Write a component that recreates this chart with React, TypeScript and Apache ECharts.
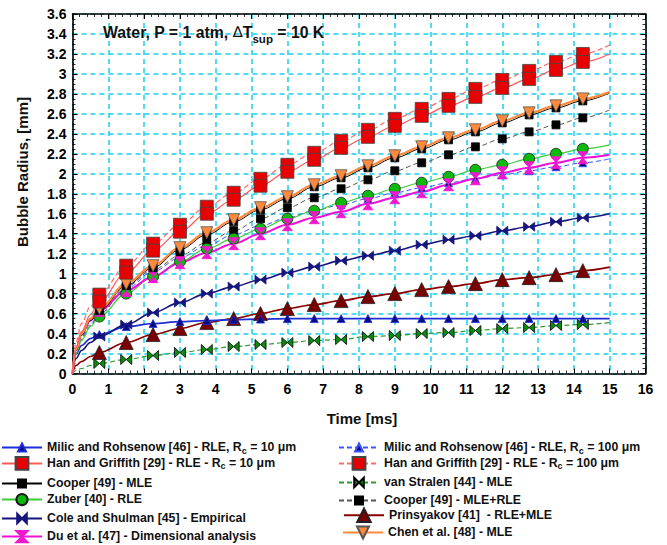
import React, { useEffect, useRef } from 'react';
import * as echarts from 'echarts';

// time points (ms) at which the curves were read
const times = [0, 0.1, 0.25, 0.5, 0.75, 1.5, 2.25, 3, 3.75, 4.5, 5.25, 6, 6.75, 7.5, 8.25, 9, 9.75, 10.5, 11.25, 12, 12.75, 13.5, 14.25, 15];
// times that carry a marker
const markerTimes = [0.75, 1.5, 2.25, 3, 3.75, 4.5, 5.25, 6, 6.75, 7.5, 8.25, 9, 9.75, 10.5, 11.25, 12, 12.75, 13.5, 14.25];

// bubble radius (mm)
const milic10 = [0, 0.2, 0.28, 0.35, 0.39, 0.47, 0.5, 0.52, 0.53, 0.54, 0.545, 0.55, 0.55, 0.55, 0.55, 0.55, 0.55, 0.55, 0.55, 0.55, 0.55, 0.55, 0.55, 0.55];
const milic100 = [0, 0.22, 0.36, 0.5, 0.6, 0.85, 1.02, 1.16, 1.28, 1.39, 1.48, 1.56, 1.63, 1.69, 1.75, 1.81, 1.86, 1.91, 1.95, 1.99, 2.03, 2.07, 2.11, 2.15];
const han10 = [0, 0.26, 0.42, 0.59, 0.72, 1.01, 1.23, 1.42, 1.6, 1.74, 1.88, 2.02, 2.14, 2.26, 2.37, 2.48, 2.58, 2.68, 2.77, 2.86, 2.95, 3.04, 3.12, 3.2];
const han100 = [0, 0.32, 0.5, 0.67, 0.79, 1.08, 1.3, 1.49, 1.67, 1.81, 1.95, 2.09, 2.21, 2.33, 2.44, 2.55, 2.65, 2.75, 2.85, 2.94, 3.03, 3.12, 3.2, 3.29];
const cooperMLE = [0, 0.23, 0.38, 0.53, 0.63, 0.88, 1.06, 1.24, 1.39, 1.52, 1.64, 1.75, 1.87, 1.96, 2.06, 2.16, 2.25, 2.34, 2.42, 2.51, 2.59, 2.66, 2.73, 2.81];
const cooperMR = [0, 0.2, 0.34, 0.48, 0.59, 0.87, 1.04, 1.18, 1.31, 1.43, 1.55, 1.66, 1.76, 1.85, 1.94, 2.03, 2.11, 2.19, 2.27, 2.35, 2.42, 2.49, 2.56, 2.64];
const zuber = [0, 0.2, 0.33, 0.47, 0.57, 0.8, 0.97, 1.12, 1.25, 1.35, 1.45, 1.55, 1.63, 1.71, 1.78, 1.85, 1.91, 1.97, 2.04, 2.09, 2.15, 2.2, 2.25, 2.29];
const cole = [0, 0.15, 0.23, 0.31, 0.37, 0.49, 0.61, 0.71, 0.8, 0.87, 0.94, 1.01, 1.07, 1.13, 1.18, 1.23, 1.29, 1.34, 1.38, 1.43, 1.47, 1.52, 1.56, 1.6];
const du = [0, 0.25, 0.4, 0.53, 0.63, 0.83, 0.97, 1.11, 1.21, 1.3, 1.4, 1.49, 1.56, 1.62, 1.7, 1.76, 1.82, 1.89, 1.95, 2.01, 2.06, 2.11, 2.16, 2.19];
const vanStralen = [0, 0.03, 0.05, 0.08, 0.1, 0.14, 0.18, 0.21, 0.24, 0.27, 0.29, 0.31, 0.33, 0.34, 0.37, 0.38, 0.4, 0.41, 0.43, 0.45, 0.46, 0.48, 0.49, 0.51];
const prinsyakov = [0, 0.08, 0.12, 0.17, 0.21, 0.31, 0.39, 0.45, 0.51, 0.55, 0.6, 0.65, 0.69, 0.73, 0.77, 0.8, 0.84, 0.87, 0.9, 0.94, 0.96, 0.99, 1.03, 1.065];
const chen = [0, 0.24, 0.4, 0.55, 0.65, 0.9, 1.08, 1.26, 1.41, 1.54, 1.66, 1.77, 1.89, 1.98, 2.08, 2.18, 2.27, 2.36, 2.44, 2.53, 2.61, 2.68, 2.75, 2.82];

const names = {
  milic10: 'Milic and Rohsenow [46] - RLE, Rc = 10 μm',
  han10: 'Han and Griffith [29] - RLE - Rc = 10 μm',
  cooperMLE: 'Cooper [49] - MLE',
  zuber: 'Zuber [40] - RLE',
  cole: 'Cole and Shulman [45] - Empirical',
  du: 'Du et al. [47] - Dimensional analysis',
  milic100: 'Milic and Rohsenow [46] - RLE, Rc = 100 μm',
  han100: 'Han and Griffith [29] - RLE - Rc = 100 μm',
  vanStralen: 'van Stralen [44] - MLE',
  cooperMR: 'Cooper [49] - MLE+RLE',
  prinsyakov: 'Prinsyakov [41]  - RLE+MLE',
  chen: 'Chen et al. [48] - MLE',
};

const FONT = '"Liberation Sans", Arial, sans-serif';
const BOWTIE = 'path://M0,0L10,5L0,10Z M20,0L10,5L20,10Z';
const HOURGLASS = 'path://M0,0L10,0L5,10Z M0,20L10,20L5,10Z';

function mk(name: string, values: number[], o: any) {
  return {
    name,
    type: 'line',
    smooth: 0.35,
    smoothMonotone: 'x',
    showAllSymbol: true,
    symbol: o.symbol,
    symbolSize: o.size,
    symbolRotate: o.rotate ?? 0,
    lineStyle: { color: o.line, width: o.width ?? 1.2, type: o.dash ? [5, 3] : 'solid' },
    itemStyle: { color: o.fill, borderColor: o.border ?? o.fill, borderWidth: o.bw ?? 0.8 },
    emphasis: { disabled: true },
    data: times.map((t, i) => ({
      value: [t, values[i]],
      symbol: markerTimes.includes(t) ? o.symbol : 'none',
    })),
  };
}

function fmt(name: string) {
  const parts = name.split('Rc');
  if (parts.length === 1) return `{m|${name}}`;
  return `{m|${parts[0]}R}{s|c}{m|${parts[1]}}`;
}

const legendRich = {
  m: { fontSize: 12.3, fontWeight: 'bold', fontFamily: FONT, color: '#111', lineHeight: 13, verticalAlign: 'top', padding: [0, 0, 2, 0] },
  s: { fontSize: 9, fontWeight: 'bold', fontFamily: FONT, color: '#111', lineHeight: 10, verticalAlign: 'top', padding: [5, 0, 0, 0] },
};

export default function App() {
  const ref = useRef<HTMLDivElement>(null);
  useEffect(() => {
    if (!ref.current) return;
    const chart = echarts.init(ref.current, undefined, { renderer: 'svg' });

    const series = [
      mk(names.vanStralen, vanStralen, { symbol: BOWTIE, size: [11, 10], line: '#2f9a2f', fill: '#0c8c0c', border: '#000', dash: true, width: 1.2 }),
      mk(names.prinsyakov, prinsyakov, { symbol: 'triangle', size: 14, line: '#8b0000', fill: '#7a0000', border: '#222', width: 1.6 }),
      mk(names.milic10, milic10, { symbol: 'triangle', size: 8, line: '#1c2fd6', fill: '#0a0a80', border: '#1c2fd6', width: 1.8 }),
      mk(names.cole, cole, { symbol: BOWTIE, size: [11, 9], line: '#15157d', fill: '#15157d', width: 1.6 }),
      mk(names.milic100, milic100, { symbol: 'triangle', size: 8, line: '#3a55ff', fill: '#0a0a80', border: '#3a55ff', dash: true, width: 1 }),
      mk(names.cooperMR, cooperMR, { symbol: 'rect', size: 8, line: '#555', fill: '#000', dash: true, width: 1 }),
      mk(names.zuber, zuber, { symbol: 'circle', size: 11, line: '#3ccc3c', fill: '#0cba0c', border: '#1a1a1a', width: 1.2 }),
      mk(names.du, du, { symbol: HOURGLASS, size: [10, 12], line: '#f010d8', fill: '#ee18cc', width: 2 }),
      mk(names.cooperMLE, cooperMLE, { symbol: 'rect', size: 8, line: '#000', fill: '#000', width: 1 }),
      mk(names.chen, chen, { symbol: 'triangle', rotate: 180, size: 12, line: '#ff8a3d', fill: '#ff8a3d', border: '#555', width: 2.2 }),
      mk(names.han100, han100, { symbol: 'rect', size: 13, line: '#ff6a6a', fill: '#e80000', border: '#444', dash: true, width: 1.2 }),
      mk(names.han10, han10, { symbol: 'rect', size: 13, line: '#ff5a5a', fill: '#e80000', border: '#444', width: 1.2 }),
    ];

    const legendLayout: [string, number, number, number][] = [
      [names.milic10, 1, 445, 10],
      [names.han10, 1, 463, 16],
      [names.cooperMLE, 1, 481, 10],
      [names.zuber, 1, 499, 14],
      [names.cole, 1, 517, 12],
      [names.du, 1, 536, 14],
      [names.milic100, 338, 445, 10],
      [names.han100, 338, 463, 16],
      [names.vanStralen, 338, 481, 12],
      [names.cooperMR, 338, 498, 10],
      [names.prinsyakov, 343, 515, 17],
      [names.chen, 342, 532, 15],
    ];
    const legend = legendLayout.map(([n, x, cy, h]) => ({
      data: [n],
      left: x,
      top: cy - h / 2 + 1,
      itemWidth: 40,
      itemHeight: h,
      padding: 0,
      selectedMode: false,
      formatter: fmt,
      textStyle: { rich: legendRich },
    }));

    const axisCommon = {
      type: 'value',
      axisLine: { show: true, onZero: false, lineStyle: { color: '#000', width: 1.6 } },
      axisTick: { show: true, inside: true, length: 5, lineStyle: { color: '#000', width: 1 } },
      minorTick: { show: true, length: 3, lineStyle: { color: '#000', width: 0.8 } },
    };
    const splitLine = { show: true, lineStyle: { color: '#19cfef', width: 1.5, type: [5, 4] } };
    const labelStyle = { fontSize: 14, fontWeight: 'bold', color: '#000', fontFamily: FONT };

    chart.setOption({
      animation: false,
      backgroundColor: '#fff',
      grid: { left: 72.5, top: 14, right: 21.5, bottom: 171.5 },
      legend,
      xAxis: [
        { ...axisCommon, position: 'bottom', min: 0, max: 16, interval: 1, minorTick: { ...axisCommon.minorTick, splitNumber: 5 },
          axisLabel: { ...labelStyle, margin: 8 }, splitLine },
        { ...axisCommon, position: 'top', min: 0, max: 16, interval: 1, minorTick: { ...axisCommon.minorTick, splitNumber: 5 },
          axisLabel: { show: false }, splitLine: { show: false } },
      ],
      yAxis: [
        { ...axisCommon, position: 'left', min: 0, max: 3.6, interval: 0.2, minorTick: { ...axisCommon.minorTick, splitNumber: 4 },
          axisLabel: { ...labelStyle, margin: 6, formatter: (v: number) => String(Math.round(v * 10) / 10) }, splitLine },
        { ...axisCommon, position: 'right', min: 0, max: 3.6, interval: 0.2, minorTick: { ...axisCommon.minorTick, splitNumber: 4 },
          axisLabel: { show: false }, splitLine: { show: false } },
      ],
      series,
      graphic: [
        {
          type: 'text', left: 103, top: 24, z: 100,
          style: {
            text: '{b|Water, P = 1 atm, }{d|∆}{b|T}{s|sup}{b| = 10 K}',
            rich: {
              b: { fontSize: 15.8, fontWeight: 'bold', fontFamily: FONT, fill: '#111', lineHeight: 18, verticalAlign: 'top' },
              d: { fontSize: 15, fontWeight: 'normal', fontFamily: 'DejaVu Sans', fill: '#111', lineHeight: 18, verticalAlign: 'top' },
              s: { fontSize: 11.5, fontWeight: 'bold', fontFamily: FONT, fill: '#111', lineHeight: 12, verticalAlign: 'top', padding: [9, 0, 0, 0] },
            },
          },
        },
        {
          type: 'text', x: 22, y: 172, rotation: Math.PI / 2,
          style: { text: 'Bubble Radius, [mm]', font: `bold 15px ${FONT}`, fill: '#111', align: 'center', verticalAlign: 'middle' },
        },
        {
          type: 'text', x: 362, y: 418,
          style: { text: 'Time [ms]', font: `bold 15px ${FONT}`, fill: '#111', align: 'center', verticalAlign: 'middle' },
        },
      ],
    });
    return () => chart.dispose();
  }, []);
  return <div ref={ref} style={{ position: 'fixed', left: 0, top: 0, width: 667, height: 545 }} />;
}
